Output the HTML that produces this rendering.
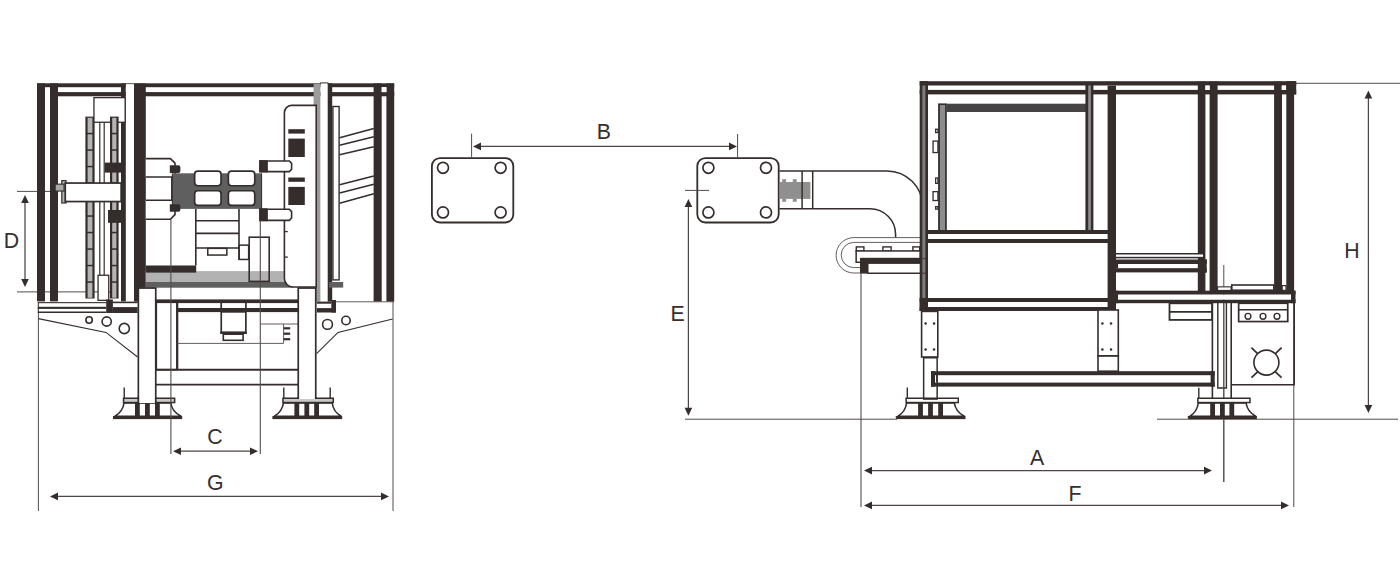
<!DOCTYPE html>
<html><head><meta charset="utf-8"><title>Machine dimensions</title>
<style>
html,body{margin:0;padding:0;background:#fff;}
body{width:1400px;height:579px;overflow:hidden;}
svg{display:block;}
text{font-family:"Liberation Sans",sans-serif;font-size:21.3px;fill:#342d2c;}
</style></head><body>
<svg width="1400" height="579" viewBox="0 0 1400 579">
<rect width="1400" height="579" fill="#fff"/>
<line x1="38.4" y1="313.0" x2="38.4" y2="511.0" stroke="#524c4b" stroke-width="1.0"/>
<line x1="393.0" y1="302.0" x2="393.0" y2="511.0" stroke="#524c4b" stroke-width="1.0"/>
<line x1="17.0" y1="191.4" x2="56.0" y2="191.4" stroke="#524c4b" stroke-width="1.0"/>
<line x1="17.0" y1="291.9" x2="110.0" y2="291.9" stroke="#524c4b" stroke-width="1.0"/>
<rect x="37.0" y="83.3" width="357.2" height="3.9" fill="#342d2c"/>
<rect x="50.0" y="92.1" width="344.2" height="4.2" fill="#342d2c"/>
<rect x="37.0" y="83.4" width="8.0" height="218.0" fill="#342d2c"/>
<rect x="50.0" y="83.4" width="8.0" height="218.0" fill="#342d2c"/>
<rect x="121.0" y="83.4" width="4.8" height="218.0" fill="#342d2c"/>
<rect x="125.9" y="84.1" width="8.1" height="12.9" fill="#fff"/>
<rect x="134.0" y="83.4" width="11.8" height="204.4" fill="#342d2c"/>
<rect x="134.0" y="287.0" width="4.4" height="14.6" fill="#342d2c"/>
<rect x="85.4" y="116.6" width="9.2" height="181.9" fill="#342d2c"/>
<rect x="87.6" y="117.8" width="4.8" height="15.0" fill="#b4b4b4"/>
<rect x="87.6" y="134.3" width="4.8" height="15.0" fill="#b4b4b4"/>
<rect x="87.6" y="150.8" width="4.8" height="15.0" fill="#b4b4b4"/>
<rect x="87.6" y="167.3" width="4.8" height="15.0" fill="#b4b4b4"/>
<rect x="87.6" y="183.8" width="4.8" height="15.0" fill="#b4b4b4"/>
<rect x="87.6" y="200.3" width="4.8" height="15.0" fill="#b4b4b4"/>
<rect x="87.6" y="216.8" width="4.8" height="15.0" fill="#b4b4b4"/>
<rect x="87.6" y="233.3" width="4.8" height="15.0" fill="#b4b4b4"/>
<rect x="87.6" y="249.8" width="4.8" height="15.0" fill="#b4b4b4"/>
<rect x="87.6" y="266.3" width="4.8" height="15.0" fill="#b4b4b4"/>
<rect x="87.6" y="282.8" width="4.8" height="15.0" fill="#b4b4b4"/>
<line x1="99.8" y1="122.0" x2="99.8" y2="275.0" stroke="#342d2c" stroke-width="1.2"/>
<line x1="104.2" y1="122.0" x2="104.2" y2="275.0" stroke="#342d2c" stroke-width="1.2"/>
<rect x="93.95" y="97.65" width="31.20" height="24.60" fill="#fff" stroke="#342d2c" stroke-width="1.3"/>
<rect x="110.0" y="116.6" width="8.6" height="181.9" fill="#342d2c"/>
<rect x="112.2" y="117.8" width="4.2" height="15.0" fill="#b4b4b4"/>
<rect x="112.2" y="134.3" width="4.2" height="15.0" fill="#b4b4b4"/>
<rect x="112.2" y="150.8" width="4.2" height="15.0" fill="#b4b4b4"/>
<rect x="112.2" y="167.3" width="4.2" height="15.0" fill="#b4b4b4"/>
<rect x="112.2" y="183.8" width="4.2" height="15.0" fill="#b4b4b4"/>
<rect x="112.2" y="200.3" width="4.2" height="15.0" fill="#b4b4b4"/>
<rect x="112.2" y="216.8" width="4.2" height="15.0" fill="#b4b4b4"/>
<rect x="112.2" y="233.3" width="4.2" height="15.0" fill="#b4b4b4"/>
<rect x="112.2" y="249.8" width="4.2" height="15.0" fill="#b4b4b4"/>
<rect x="112.2" y="266.3" width="4.2" height="15.0" fill="#b4b4b4"/>
<rect x="112.2" y="282.8" width="4.2" height="15.0" fill="#b4b4b4"/>
<rect x="98.05" y="275.25" width="10.70" height="25.10" fill="#fff" stroke="#342d2c" stroke-width="1.3"/>
<rect x="104.8" y="162.6" width="18.8" height="10.0" fill="#342d2c"/>
<rect x="108.0" y="210.0" width="15.6" height="12.8" fill="#342d2c"/>
<rect x="61.80" y="180.60" width="4.20" height="22.40" fill="#b4b4b4" stroke="#342d2c" stroke-width="1.2"/>
<rect x="65.25" y="183.05" width="55.90" height="18.50" fill="#fff" stroke="#342d2c" stroke-width="1.7"/>
<rect x="55.15" y="184.15" width="8.90" height="6.90" fill="#a8a8a8" stroke="#342d2c" stroke-width="1.1"/>
<rect x="37.8" y="302.1" width="68.4" height="1.1" fill="#342d2c"/>
<rect x="37.8" y="306.8" width="68.4" height="2.1" fill="#342d2c"/>
<rect x="37.8" y="311.5" width="68.4" height="1.5" fill="#342d2c"/>
<line x1="38.3" y1="302.1" x2="38.3" y2="313.0" stroke="#342d2c" stroke-width="1.0"/>
<rect x="106.2" y="299.5" width="6.7" height="13.5" fill="#342d2c"/>
<rect x="112.9" y="307.1" width="24.7" height="5.9" fill="#342d2c"/>
<rect x="112.9" y="301.6" width="24.7" height="1.6" fill="#342d2c"/>
<path d="M38.4,318.6 L106,332.4 L137.6,357" fill="none" stroke="#342d2c" stroke-width="1.1" />
<circle cx="89.1" cy="320.0" r="3.2" fill="#fff" stroke="#342d2c" stroke-width="1.6"/>
<circle cx="106.7" cy="321.5" r="4.6" fill="#fff" stroke="#342d2c" stroke-width="1.6"/>
<circle cx="124.3" cy="328.5" r="5.1" fill="#fff" stroke="#342d2c" stroke-width="1.6"/>
<path d="M145.8,158.6 L170.4,158.6 L175,163.2 L175,177 L145.8,177" fill="#fff" stroke="#342d2c" stroke-width="1.6" />
<path d="M145.8,200.2 L175,200.2 L175,214.6 L170.4,219.2 L145.8,219.2" fill="#fff" stroke="#342d2c" stroke-width="1.6" />
<line x1="171.6" y1="177.0" x2="171.6" y2="200.0" stroke="#342d2c" stroke-width="1.1"/>
<rect x="172.4" y="173.3" width="89.4" height="35.6" fill="#5f5f5f"/>
<line x1="172.4" y1="173.3" x2="172.4" y2="208.9" stroke="#342d2c" stroke-width="1.0"/>
<line x1="261.6" y1="173.3" x2="261.6" y2="208.9" stroke="#342d2c" stroke-width="1.0"/>
<path d="M169.8,165.3 h8.4 a2.2,2.2 0 0 1 2.2,2.2 v3.2 a2.2,2.2 0 0 1 -2.2,2.2 h-8.4 z" fill="#342d2c"/>
<path d="M169.8,204.2 h8.4 a2.2,2.2 0 0 1 2.2,2.2 v3.2 a2.2,2.2 0 0 1 -2.2,2.2 h-8.4 z" fill="#342d2c"/>
<rect x="194.65" y="171.05" width="26.40" height="14.70" rx="3.2" fill="#fff" stroke="#342d2c" stroke-width="1.7"/>
<rect x="194.65" y="190.75" width="26.40" height="14.70" rx="3.2" fill="#fff" stroke="#342d2c" stroke-width="1.7"/>
<rect x="228.35" y="171.05" width="26.40" height="14.70" rx="3.2" fill="#fff" stroke="#342d2c" stroke-width="1.7"/>
<rect x="228.35" y="190.75" width="26.40" height="14.70" rx="3.2" fill="#fff" stroke="#342d2c" stroke-width="1.7"/>
<rect x="259.2" y="160.2" width="7.8" height="12.2" fill="#342d2c"/>
<rect x="259.2" y="208.4" width="7.8" height="12.8" fill="#342d2c"/>
<path d="M195.8,209 L195.8,265.5 M239,209 L239,259.7" fill="none" stroke="#342d2c" stroke-width="1.6" />
<line x1="195.8" y1="220.8" x2="239.0" y2="220.8" stroke="#342d2c" stroke-width="1.6"/>
<line x1="195.8" y1="233.4" x2="239.0" y2="233.4" stroke="#342d2c" stroke-width="1.6"/>
<line x1="195.8" y1="248.0" x2="239.0" y2="248.0" stroke="#342d2c" stroke-width="1.6"/>
<rect x="207.75" y="248.35" width="19.10" height="6.70" fill="#fff" stroke="#342d2c" stroke-width="1.5"/>
<rect x="145.8" y="271.1" width="138.6" height="11.0" fill="#b2b2b2"/>
<rect x="145.8" y="282.0" width="147.2" height="5.7" fill="#5f5f5f"/>
<rect x="239.15" y="245.15" width="9.50" height="14.30" fill="none" stroke="#342d2c" stroke-width="1.5"/>
<rect x="249.20" y="237.20" width="20.00" height="44.20" fill="none" stroke="#342d2c" stroke-width="1.6"/>
<rect x="145.8" y="265.5" width="50.4" height="7.1" fill="#342d2c"/>
<rect x="313.6" y="83.8" width="7.0" height="217.8" fill="#9b9b9b"/>
<path d="M316.2,105.4 L291.4,105.4 A7.2,7.2 0 0 0 284.4,112.6 L284.4,278.4 A8.6,8.6 0 0 0 293,287 L316.2,287 Z" fill="#fff" stroke="#342d2c" stroke-width="1.6" />
<rect x="288.3" y="129.2" width="16.5" height="4.4" fill="#342d2c"/>
<rect x="288.3" y="138.6" width="16.5" height="18.4" fill="#342d2c"/>
<rect x="288.3" y="177.5" width="16.5" height="4.3" fill="#342d2c"/>
<rect x="288.3" y="186.9" width="16.5" height="18.1" fill="#342d2c"/>
<line x1="284.0" y1="231.6" x2="287.8" y2="231.6" stroke="#342d2c" stroke-width="1.3"/>
<line x1="284.0" y1="257.1" x2="287.8" y2="257.1" stroke="#342d2c" stroke-width="1.3"/>
<path d="M267,161.0 L289.4,161.0 L291.6,163.4 L291.6,169.19999999999996 L289.4,171.59999999999997 L267,171.59999999999997 Z" fill="#fff" stroke="#342d2c" stroke-width="1.6" />
<rect x="259.2" y="160.2" width="8.2" height="12.2" fill="#342d2c"/>
<path d="M267,209.20000000000002 L289.4,209.20000000000002 L291.6,211.60000000000002 L291.6,218.0 L289.4,220.4 L267,220.4 Z" fill="#fff" stroke="#342d2c" stroke-width="1.6" />
<rect x="259.2" y="208.4" width="8.2" height="12.8" fill="#342d2c"/>
<rect x="320.6" y="82.4" width="7.6" height="219.2" fill="#fff"/>
<path d="M320.4,84.2 L320.4,82.9 L328.2,82.9 L328.2,84.2" fill="none" stroke="#342d2c" stroke-width="1.0" />
<rect x="327.7" y="83.4" width="4.5" height="218.2" fill="#342d2c"/>
<rect x="332.90" y="106.50" width="6.20" height="173.40" fill="#fff" stroke="#342d2c" stroke-width="1.4"/>
<line x1="339.6" y1="137.7" x2="373.8" y2="128.5" stroke="#342d2c" stroke-width="1.6"/>
<line x1="339.6" y1="145.2" x2="373.8" y2="136.8" stroke="#342d2c" stroke-width="1.6"/>
<line x1="339.6" y1="154.8" x2="373.8" y2="146.7" stroke="#342d2c" stroke-width="1.6"/>
<line x1="339.6" y1="184.8" x2="373.8" y2="176.0" stroke="#342d2c" stroke-width="1.6"/>
<line x1="339.6" y1="193.1" x2="373.8" y2="184.2" stroke="#342d2c" stroke-width="1.6"/>
<line x1="339.6" y1="203.3" x2="373.8" y2="193.8" stroke="#342d2c" stroke-width="1.6"/>
<rect x="329.0" y="282.0" width="14.2" height="5.6" fill="#5f5f5f"/>
<rect x="373.6" y="83.4" width="8.1" height="218.2" fill="#342d2c"/>
<rect x="386.4" y="83.4" width="7.8" height="218.2" fill="#342d2c"/>
<rect x="381.7" y="87.2" width="4.7" height="4.9" fill="#fff"/>
<line x1="335.0" y1="301.8" x2="394.0" y2="301.8" stroke="#524c4b" stroke-width="0.9"/>
<rect x="155.5" y="299.4" width="143.0" height="3.7" fill="#342d2c"/>
<rect x="156.35" y="302.15" width="20.50" height="67.50" fill="none" stroke="#342d2c" stroke-width="1.5"/>
<line x1="177.3" y1="303.0" x2="177.3" y2="370.0" stroke="#342d2c" stroke-width="2.0"/>
<rect x="177.6" y="308.0" width="120.4" height="4.1" fill="#342d2c"/>
<line x1="221.2" y1="303.0" x2="221.2" y2="312.0" stroke="#342d2c" stroke-width="1.7"/>
<line x1="245.9" y1="303.0" x2="245.9" y2="312.0" stroke="#342d2c" stroke-width="1.7"/>
<rect x="221.25" y="311.85" width="24.60" height="21.30" fill="#fff" stroke="#342d2c" stroke-width="1.7"/>
<rect x="220.4" y="331.4" width="26.3" height="2.5" fill="#342d2c"/>
<rect x="223.30" y="334.20" width="19.80" height="6.10" fill="#fff" stroke="#342d2c" stroke-width="1.6"/>
<line x1="177.0" y1="343.4" x2="283.6" y2="343.4" stroke="#524c4b" stroke-width="0.9"/>
<line x1="260.5" y1="324.0" x2="298.0" y2="324.0" stroke="#524c4b" stroke-width="0.9"/>
<line x1="283.6" y1="324.0" x2="283.6" y2="343.4" stroke="#524c4b" stroke-width="0.9"/>
<line x1="283.6" y1="328.3" x2="290.2" y2="328.3" stroke="#342d2c" stroke-width="2.2"/>
<line x1="283.6" y1="333.7" x2="290.2" y2="333.7" stroke="#342d2c" stroke-width="2.2"/>
<line x1="283.6" y1="339.2" x2="290.2" y2="339.2" stroke="#342d2c" stroke-width="2.2"/>
<line x1="156.0" y1="369.8" x2="298.0" y2="369.8" stroke="#342d2c" stroke-width="2.0"/>
<line x1="156.0" y1="384.6" x2="298.0" y2="384.6" stroke="#342d2c" stroke-width="1.6"/>
<rect x="138.35" y="288.05" width="17.40" height="113.70" fill="#fff" stroke="#342d2c" stroke-width="1.7"/>
<rect x="298.25" y="288.05" width="17.50" height="113.70" fill="#fff" stroke="#342d2c" stroke-width="1.7"/>
<rect x="316.8" y="308.1" width="19.2" height="4.4" fill="#342d2c"/>
<rect x="331.3" y="300.0" width="4.7" height="12.5" fill="#342d2c"/>
<rect x="316.8" y="301.6" width="14.5" height="2.1" fill="#342d2c"/>
<path d="M392.6,319 L338,332.4 L316.6,353.6" fill="none" stroke="#342d2c" stroke-width="1.1" />
<circle cx="327.5" cy="324.4" r="4.9" fill="#fff" stroke="#342d2c" stroke-width="1.6"/>
<circle cx="346.0" cy="320.5" r="4.2" fill="#fff" stroke="#342d2c" stroke-width="1.6"/>
<line x1="124.2" y1="387.6" x2="124.2" y2="398.0" stroke="#342d2c" stroke-width="1.4"/>
<line x1="283.8" y1="387.6" x2="283.8" y2="398.0" stroke="#342d2c" stroke-width="1.4"/>
<line x1="330.2" y1="387.6" x2="330.2" y2="398.0" stroke="#342d2c" stroke-width="1.4"/>
<path d="M124,403 Q122.8,412 114.6,416.4 L181.39999999999998,416.4 Q171.99999999999997,412 170.79999999999998,403 Z" fill="#fff" stroke="#342d2c" stroke-width="1.6" />
<rect x="135.0" y="403.0" width="4.8" height="13.5" fill="#342d2c"/>
<rect x="145.0" y="403.0" width="4.8" height="13.5" fill="#342d2c"/>
<rect x="155.0" y="403.0" width="4.8" height="13.5" fill="#342d2c"/>
<rect x="113.0" y="416.0" width="69.2" height="3.1" fill="#342d2c"/>
<rect x="123.55" y="398.25" width="51.10" height="4.30" fill="#c9c9c9" stroke="#342d2c" stroke-width="1.5"/>
<path d="M283.4,403 Q282.2,412 274.0,416.4 L341.4,416.4 Q333.4,412 332.2,403 Z" fill="#fff" stroke="#342d2c" stroke-width="1.6" />
<rect x="294.4" y="403.0" width="4.8" height="13.5" fill="#342d2c"/>
<rect x="304.4" y="403.0" width="4.8" height="13.5" fill="#342d2c"/>
<rect x="314.2" y="403.0" width="4.8" height="13.5" fill="#342d2c"/>
<rect x="272.4" y="416.0" width="69.8" height="3.1" fill="#342d2c"/>
<rect x="282.95" y="398.25" width="50.30" height="4.30" fill="#c9c9c9" stroke="#342d2c" stroke-width="1.5"/>
<rect x="139.2" y="397.0" width="15.7" height="6.0" fill="#fff"/>
<line x1="138.3" y1="397.0" x2="138.3" y2="403.0" stroke="#342d2c" stroke-width="1.7"/>
<line x1="155.8" y1="397.0" x2="155.8" y2="403.0" stroke="#342d2c" stroke-width="1.7"/>
<rect x="299.1" y="397.0" width="15.8" height="2.0" fill="#fff"/>
<line x1="298.2" y1="397.0" x2="298.2" y2="399.0" stroke="#342d2c" stroke-width="1.7"/>
<line x1="315.8" y1="397.0" x2="315.8" y2="399.0" stroke="#342d2c" stroke-width="1.7"/>
<line x1="170.9" y1="219.6" x2="170.9" y2="454.0" stroke="#524c4b" stroke-width="1.1"/>
<line x1="260.3" y1="220.6" x2="260.3" y2="454.0" stroke="#524c4b" stroke-width="1.1"/>
<line x1="25.0" y1="201.0" x2="25.0" y2="281.0" stroke="#4c4645" stroke-width="1.25"/>
<polygon points="25.0,195 21.2,203 28.8,203" fill="#342d2c"/>
<polygon points="25.0,287 21.2,279 28.8,279" fill="#342d2c"/>
<line x1="179.0" y1="451.2" x2="252.0" y2="451.2" stroke="#4c4645" stroke-width="1.25"/>
<polygon points="173,451.2 181,447.4 181,455.0" fill="#342d2c"/>
<polygon points="258,451.2 250,447.4 250,455.0" fill="#342d2c"/>
<line x1="56.0" y1="496.4" x2="383.0" y2="496.4" stroke="#4c4645" stroke-width="1.25"/>
<polygon points="50,496.4 58,492.59999999999997 58,500.2" fill="#342d2c"/>
<polygon points="389,496.4 381,492.59999999999997 381,500.2" fill="#342d2c"/>
<rect x="431.90" y="158.10" width="81.40" height="64.40" rx="8" fill="#fff" stroke="#342d2c" stroke-width="1.8"/>
<circle cx="443.0" cy="167.8" r="5.5" fill="#fff" stroke="#342d2c" stroke-width="1.7"/>
<circle cx="443.0" cy="212.4" r="5.5" fill="#fff" stroke="#342d2c" stroke-width="1.7"/>
<circle cx="500.6" cy="167.8" r="5.5" fill="#fff" stroke="#342d2c" stroke-width="1.7"/>
<circle cx="500.6" cy="212.4" r="5.5" fill="#fff" stroke="#342d2c" stroke-width="1.7"/>
<rect x="697.30" y="158.10" width="81.40" height="64.40" rx="8" fill="#fff" stroke="#342d2c" stroke-width="1.8"/>
<circle cx="708.4" cy="167.8" r="5.5" fill="#fff" stroke="#342d2c" stroke-width="1.7"/>
<circle cx="708.4" cy="212.4" r="5.5" fill="#fff" stroke="#342d2c" stroke-width="1.7"/>
<circle cx="766.0" cy="167.8" r="5.5" fill="#fff" stroke="#342d2c" stroke-width="1.7"/>
<circle cx="766.0" cy="212.4" r="5.5" fill="#fff" stroke="#342d2c" stroke-width="1.7"/>
<line x1="471.6" y1="133.6" x2="471.6" y2="157.6" stroke="#524c4b" stroke-width="1.0"/>
<line x1="737.6" y1="134.0" x2="737.6" y2="158.0" stroke="#524c4b" stroke-width="1.0"/>
<line x1="479.0" y1="146.4" x2="731.0" y2="146.4" stroke="#4c4645" stroke-width="1.25"/>
<polygon points="473,146.4 481,142.6 481,150.20000000000002" fill="#342d2c"/>
<polygon points="737,146.4 729,142.6 729,150.20000000000002" fill="#342d2c"/>
<line x1="685.0" y1="190.4" x2="709.0" y2="190.4" stroke="#524c4b" stroke-width="1.0"/>
<line x1="779.4" y1="170.9" x2="887.0" y2="170.9" stroke="#342d2c" stroke-width="1.5"/>
<line x1="779.4" y1="208.8" x2="870.0" y2="208.8" stroke="#342d2c" stroke-width="1.5"/>
<rect x="779.8" y="182.0" width="30.6" height="16.9" fill="#8f8f8f"/>
<rect x="782.2" y="179.2" width="3.9" height="3.0" fill="#8f8f8f"/>
<rect x="782.2" y="198.7" width="3.9" height="3.1" fill="#8f8f8f"/>
<rect x="792.8" y="179.2" width="3.9" height="3.0" fill="#8f8f8f"/>
<rect x="792.8" y="198.7" width="3.9" height="3.1" fill="#8f8f8f"/>
<line x1="802.1" y1="171.0" x2="802.1" y2="209.0" stroke="#342d2c" stroke-width="1.5"/>
<line x1="812.7" y1="171.0" x2="812.7" y2="209.0" stroke="#342d2c" stroke-width="1.5"/>
<path d="M887,170.9 A35.6,35.6 0 0 1 922.6,206.5 L922.6,240" fill="none" stroke="#342d2c" stroke-width="1.5" />
<path d="M870,208.8 A25.6,25.6 0 0 1 895.6,234.4 L895.6,237.6" fill="none" stroke="#342d2c" stroke-width="1.5" />
<path d="M921,237.6 L853.8,237.6 A17.7,17.7 0 0 0 853.8,273 L861,273" fill="none" stroke="#524c4b" stroke-width="0.9" />
<path d="M921,242.4 L853.8,242.4 A12.6,12.6 0 0 0 853.8,267.6 L861,267.6" fill="none" stroke="#524c4b" stroke-width="0.9" />
<rect x="856.30" y="246.90" width="7.60" height="4.20" fill="#fff" stroke="#342d2c" stroke-width="1.4"/>
<rect x="882.90" y="246.90" width="8.20" height="4.20" fill="#fff" stroke="#342d2c" stroke-width="1.4"/>
<rect x="912.90" y="246.90" width="6.80" height="4.20" fill="#fff" stroke="#342d2c" stroke-width="1.4"/>
<rect x="856.15" y="250.95" width="64.10" height="11.30" fill="#fff" stroke="#342d2c" stroke-width="1.5"/>
<rect x="860.0" y="257.8" width="62.0" height="5.2" fill="#342d2c"/>
<rect x="860.0" y="262.8" width="7.6" height="10.8" fill="#342d2c"/>
<rect x="867.75" y="263.15" width="53.50" height="10.10" fill="#fff" stroke="#342d2c" stroke-width="1.5"/>
<line x1="861.0" y1="273.6" x2="861.0" y2="507.0" stroke="#524c4b" stroke-width="1.1"/>
<line x1="1223.8" y1="265.0" x2="1223.8" y2="482.0" stroke="#524c4b" stroke-width="1.0"/>
<line x1="1293.8" y1="303.0" x2="1293.8" y2="507.0" stroke="#524c4b" stroke-width="1.0"/>
<line x1="685.0" y1="419.2" x2="897.0" y2="419.2" stroke="#524c4b" stroke-width="1.0"/>
<line x1="1157.0" y1="419.2" x2="1398.0" y2="419.2" stroke="#524c4b" stroke-width="1.0"/>
<line x1="1296.0" y1="83.3" x2="1400.0" y2="83.3" stroke="#524c4b" stroke-width="1.0"/>
<rect x="919.7" y="81.2" width="376.5" height="4.3" fill="#342d2c"/>
<rect x="919.7" y="89.9" width="376.5" height="4.5" fill="#342d2c"/>
<rect x="919.7" y="81.2" width="8.3" height="229.8" fill="#342d2c"/>
<rect x="922.3" y="85.5" width="3.1" height="212.5" fill="#7c7c7c"/>
<line x1="922.3" y1="258.7" x2="925.4" y2="258.7" stroke="#342d2c" stroke-width="0.9"/>
<line x1="922.3" y1="273.2" x2="925.4" y2="273.2" stroke="#342d2c" stroke-width="0.9"/>
<rect x="938.1" y="103.4" width="8.7" height="127.6" fill="#342d2c"/>
<rect x="939.9" y="105.0" width="5.2" height="126.0" fill="#8c8c8c"/>
<rect x="946.4" y="103.7" width="142.4" height="8.3" fill="#454343"/>
<rect x="1085.4" y="83.0" width="8.0" height="148.0" fill="#342d2c"/>
<rect x="1088.2" y="85.5" width="2.7" height="145.5" fill="#8c8c8c"/>
<rect x="1107.6" y="85.6" width="8.4" height="222.4" fill="#342d2c"/>
<rect x="935.65" y="129.25" width="2.30" height="3.30" fill="#fff" stroke="#342d2c" stroke-width="1.3"/>
<rect x="933.05" y="141.05" width="4.90" height="11.50" fill="#fff" stroke="#342d2c" stroke-width="1.3"/>
<rect x="935.65" y="178.05" width="2.30" height="5.30" fill="#fff" stroke="#342d2c" stroke-width="1.3"/>
<rect x="933.05" y="191.65" width="4.90" height="8.90" fill="#fff" stroke="#342d2c" stroke-width="1.3"/>
<rect x="935.65" y="206.65" width="2.30" height="2.50" fill="#fff" stroke="#342d2c" stroke-width="1.3"/>
<rect x="927.0" y="230.0" width="189.0" height="4.0" fill="#342d2c"/>
<rect x="927.0" y="239.0" width="189.0" height="4.0" fill="#342d2c"/>
<rect x="919.7" y="298.0" width="196.3" height="4.0" fill="#342d2c"/>
<rect x="919.7" y="307.0" width="196.3" height="4.0" fill="#342d2c"/>
<rect x="919.7" y="298.0" width="3.3" height="13.0" fill="#342d2c"/>
<rect x="1111.0" y="298.0" width="5.0" height="13.0" fill="#342d2c"/>
<rect x="1197.8" y="81.6" width="7.6" height="209.4" fill="#342d2c"/>
<rect x="1209.6" y="81.6" width="8.0" height="209.4" fill="#342d2c"/>
<rect x="1274.1" y="81.6" width="7.9" height="209.4" fill="#342d2c"/>
<rect x="1286.3" y="81.6" width="7.8" height="209.4" fill="#342d2c"/>
<rect x="1286.3" y="81.2" width="9.9" height="13.2" fill="#342d2c"/>
<rect x="1205.4" y="85.6" width="4.2" height="4.4" fill="#fff"/>
<rect x="1281.6" y="85.6" width="4.4" height="4.4" fill="#fff"/>
<rect x="1116.0" y="253.0" width="88.1" height="5.1" fill="#342d2c"/>
<rect x="1116.0" y="254.5" width="87.0" height="2.3" fill="#fff"/>
<rect x="1116.0" y="258.1" width="82.0" height="1.6" fill="#b0b0b0"/>
<rect x="1116.0" y="259.7" width="90.7" height="4.3" fill="#342d2c"/>
<rect x="1116.0" y="268.2" width="90.7" height="4.2" fill="#342d2c"/>
<rect x="1202.6" y="259.2" width="4.1" height="13.4" fill="#342d2c"/>
<rect x="1116.0" y="264.0" width="2.1" height="4.2" fill="#342d2c"/>
<rect x="1108.0" y="290.7" width="187.5" height="4.0" fill="#342d2c"/>
<rect x="1108.0" y="299.5" width="187.5" height="3.7" fill="#342d2c"/>
<rect x="1291.0" y="290.7" width="4.5" height="12.5" fill="#342d2c"/>
<rect x="1108.0" y="290.7" width="10.1" height="12.5" fill="#342d2c"/>
<rect x="1118.1" y="294.7" width="172.9" height="4.8" fill="#fff"/>
<rect x="1217.55" y="286.85" width="13.50" height="3.60" fill="#fff" stroke="#342d2c" stroke-width="1.1"/>
<rect x="1231.80" y="285.00" width="42.00" height="5.20" fill="#fff" stroke="#342d2c" stroke-width="1.6"/>
<rect x="1282.20" y="285.60" width="3.80" height="4.80" fill="#fff" stroke="#342d2c" stroke-width="1.2"/>
<rect x="1169.50" y="303.30" width="42.60" height="16.60" fill="#fff" stroke="#342d2c" stroke-width="1.8"/>
<line x1="1169.0" y1="311.8" x2="1212.6" y2="311.8" stroke="#342d2c" stroke-width="1.8"/>
<line x1="1212.4" y1="303.0" x2="1212.4" y2="400.8" stroke="#342d2c" stroke-width="1.6"/>
<line x1="1231.2" y1="303.0" x2="1231.2" y2="400.8" stroke="#342d2c" stroke-width="1.6"/>
<path d="M1217.8,303 L1217.8,388 L1226.4,388 L1226.4,303" fill="none" stroke="#342d2c" stroke-width="1.4" />
<line x1="1223.8" y1="303.0" x2="1223.8" y2="482.0" stroke="#524c4b" stroke-width="1.0"/>
<path d="M1231.4,384.8 L1294.2,384.8 L1294.2,303" fill="none" stroke="#342d2c" stroke-width="1.6" />
<rect x="1238.65" y="303.25" width="49.10" height="18.30" fill="#fff" stroke="#342d2c" stroke-width="1.7"/>
<line x1="1238.0" y1="309.7" x2="1288.0" y2="309.7" stroke="#342d2c" stroke-width="1.6"/>
<circle cx="1248.0" cy="316.3" r="2.9" fill="#fff" stroke="#342d2c" stroke-width="1.4"/>
<circle cx="1263.0" cy="316.3" r="2.9" fill="#fff" stroke="#342d2c" stroke-width="1.4"/>
<circle cx="1277.0" cy="316.3" r="2.9" fill="#fff" stroke="#342d2c" stroke-width="1.4"/>
<circle cx="1266.4" cy="362.6" r="12.5" fill="#fff" stroke="#342d2c" stroke-width="1.6"/>
<line x1="1251.4" y1="347.6" x2="1257.6" y2="353.6" stroke="#342d2c" stroke-width="1.7"/>
<line x1="1281.6" y1="347.6" x2="1275.4" y2="353.6" stroke="#342d2c" stroke-width="1.7"/>
<line x1="1251.4" y1="377.6" x2="1257.6" y2="371.8" stroke="#342d2c" stroke-width="1.7"/>
<line x1="1281.6" y1="377.6" x2="1275.4" y2="371.8" stroke="#342d2c" stroke-width="1.7"/>
<rect x="921.60" y="311.40" width="16.20" height="45.60" fill="#fff" stroke="#342d2c" stroke-width="1.6"/>
<rect x="923.65" y="357.75" width="13.50" height="41.10" fill="#fff" stroke="#342d2c" stroke-width="1.5"/>
<rect x="1098.00" y="310.00" width="20.30" height="45.80" fill="#fff" stroke="#342d2c" stroke-width="1.6"/>
<rect x="1098.00" y="356.00" width="20.30" height="15.20" fill="#fff" stroke="#342d2c" stroke-width="1.6"/>
<circle cx="925.6" cy="323.4" r="1.25" fill="#342d2c"/>
<circle cx="934" cy="323.4" r="1.25" fill="#342d2c"/>
<circle cx="925.6" cy="349.6" r="1.25" fill="#342d2c"/>
<circle cx="934" cy="349.6" r="1.25" fill="#342d2c"/>
<circle cx="1102.4" cy="323.4" r="1.25" fill="#342d2c"/>
<circle cx="1111" cy="323.4" r="1.25" fill="#342d2c"/>
<circle cx="1102.4" cy="349.6" r="1.25" fill="#342d2c"/>
<circle cx="1111" cy="349.6" r="1.25" fill="#342d2c"/>
<rect x="931.0" y="371.2" width="283.7" height="4.0" fill="#342d2c"/>
<rect x="931.0" y="382.6" width="283.7" height="4.0" fill="#342d2c"/>
<rect x="931.0" y="371.2" width="4.0" height="15.4" fill="#342d2c"/>
<rect x="1210.6" y="371.2" width="4.1" height="15.4" fill="#342d2c"/>
<line x1="936.6" y1="375.0" x2="936.6" y2="382.0" stroke="#342d2c" stroke-width="1.0"/>
<line x1="907.3" y1="387.4" x2="907.3" y2="398.0" stroke="#342d2c" stroke-width="1.4"/>
<line x1="1198.8" y1="387.8" x2="1198.8" y2="398.0" stroke="#342d2c" stroke-width="1.4"/>
<path d="M906.6,403 Q905.4,412 897.7,416.4 L964.7,416.4 Q955.6,412 954.4,403 Z" fill="#fff" stroke="#342d2c" stroke-width="1.6" />
<rect x="918.1" y="403.0" width="4.8" height="13.5" fill="#342d2c"/>
<rect x="928.1" y="403.0" width="4.8" height="13.5" fill="#342d2c"/>
<rect x="938.2" y="403.0" width="4.8" height="13.5" fill="#342d2c"/>
<rect x="896.1" y="416.0" width="69.4" height="3.1" fill="#342d2c"/>
<rect x="906.15" y="398.25" width="52.10" height="4.30" fill="#fff" stroke="#342d2c" stroke-width="1.5"/>
<path d="M1198.3,403 Q1197.1,412 1189.6999999999998,416.4 L1256.1000000000001,416.4 Q1247.3,412 1246.1,403 Z" fill="#fff" stroke="#342d2c" stroke-width="1.6" />
<rect x="1210.2" y="403.0" width="4.8" height="13.5" fill="#342d2c"/>
<rect x="1220.0" y="403.0" width="4.8" height="13.5" fill="#342d2c"/>
<rect x="1229.4" y="403.0" width="4.8" height="13.5" fill="#342d2c"/>
<rect x="1188.1" y="416.0" width="68.8" height="3.1" fill="#342d2c"/>
<rect x="1197.85" y="398.25" width="52.10" height="4.30" fill="#fff" stroke="#342d2c" stroke-width="1.5"/>
<rect x="923.0" y="398.2" width="14.9" height="1.6" fill="#342d2c"/>
<line x1="688.4" y1="205.0" x2="688.4" y2="409.8" stroke="#4c4645" stroke-width="1.25"/>
<polygon points="688.4,199 684.6,207 692.1999999999999,207" fill="#342d2c"/>
<polygon points="688.4,415.8 684.6,407.8 692.1999999999999,407.8" fill="#342d2c"/>
<line x1="1368.4" y1="96.6" x2="1368.4" y2="407.0" stroke="#4c4645" stroke-width="1.25"/>
<polygon points="1368.4,90.6 1364.6000000000001,98.6 1372.2,98.6" fill="#342d2c"/>
<polygon points="1368.4,413 1364.6000000000001,405 1372.2,405" fill="#342d2c"/>
<line x1="870.0" y1="470.6" x2="1206.0" y2="470.6" stroke="#4c4645" stroke-width="1.25"/>
<polygon points="864,470.6 872,466.8 872,474.40000000000003" fill="#342d2c"/>
<polygon points="1212,470.6 1204,466.8 1204,474.40000000000003" fill="#342d2c"/>
<line x1="870.0" y1="505.4" x2="1283.0" y2="505.4" stroke="#4c4645" stroke-width="1.25"/>
<polygon points="864,505.4 872,501.59999999999997 872,509.2" fill="#342d2c"/>
<polygon points="1289,505.4 1281,501.59999999999997 1281,509.2" fill="#342d2c"/>
<g opacity="0.99">
<text x="11.5" y="248.3" text-anchor="middle">D</text>
<text x="215" y="444.0" text-anchor="middle">C</text>
<text x="215.4" y="489.8" text-anchor="middle">G</text>
<text x="603.8" y="138.6" text-anchor="middle">B</text>
<text x="677.6" y="320.8" text-anchor="middle">E</text>
<text x="1037" y="464.8" text-anchor="middle">A</text>
<text x="1075" y="501" text-anchor="middle">F</text>
<text x="1352" y="257.6" text-anchor="middle">H</text>
</g>
</svg>
</body></html>
